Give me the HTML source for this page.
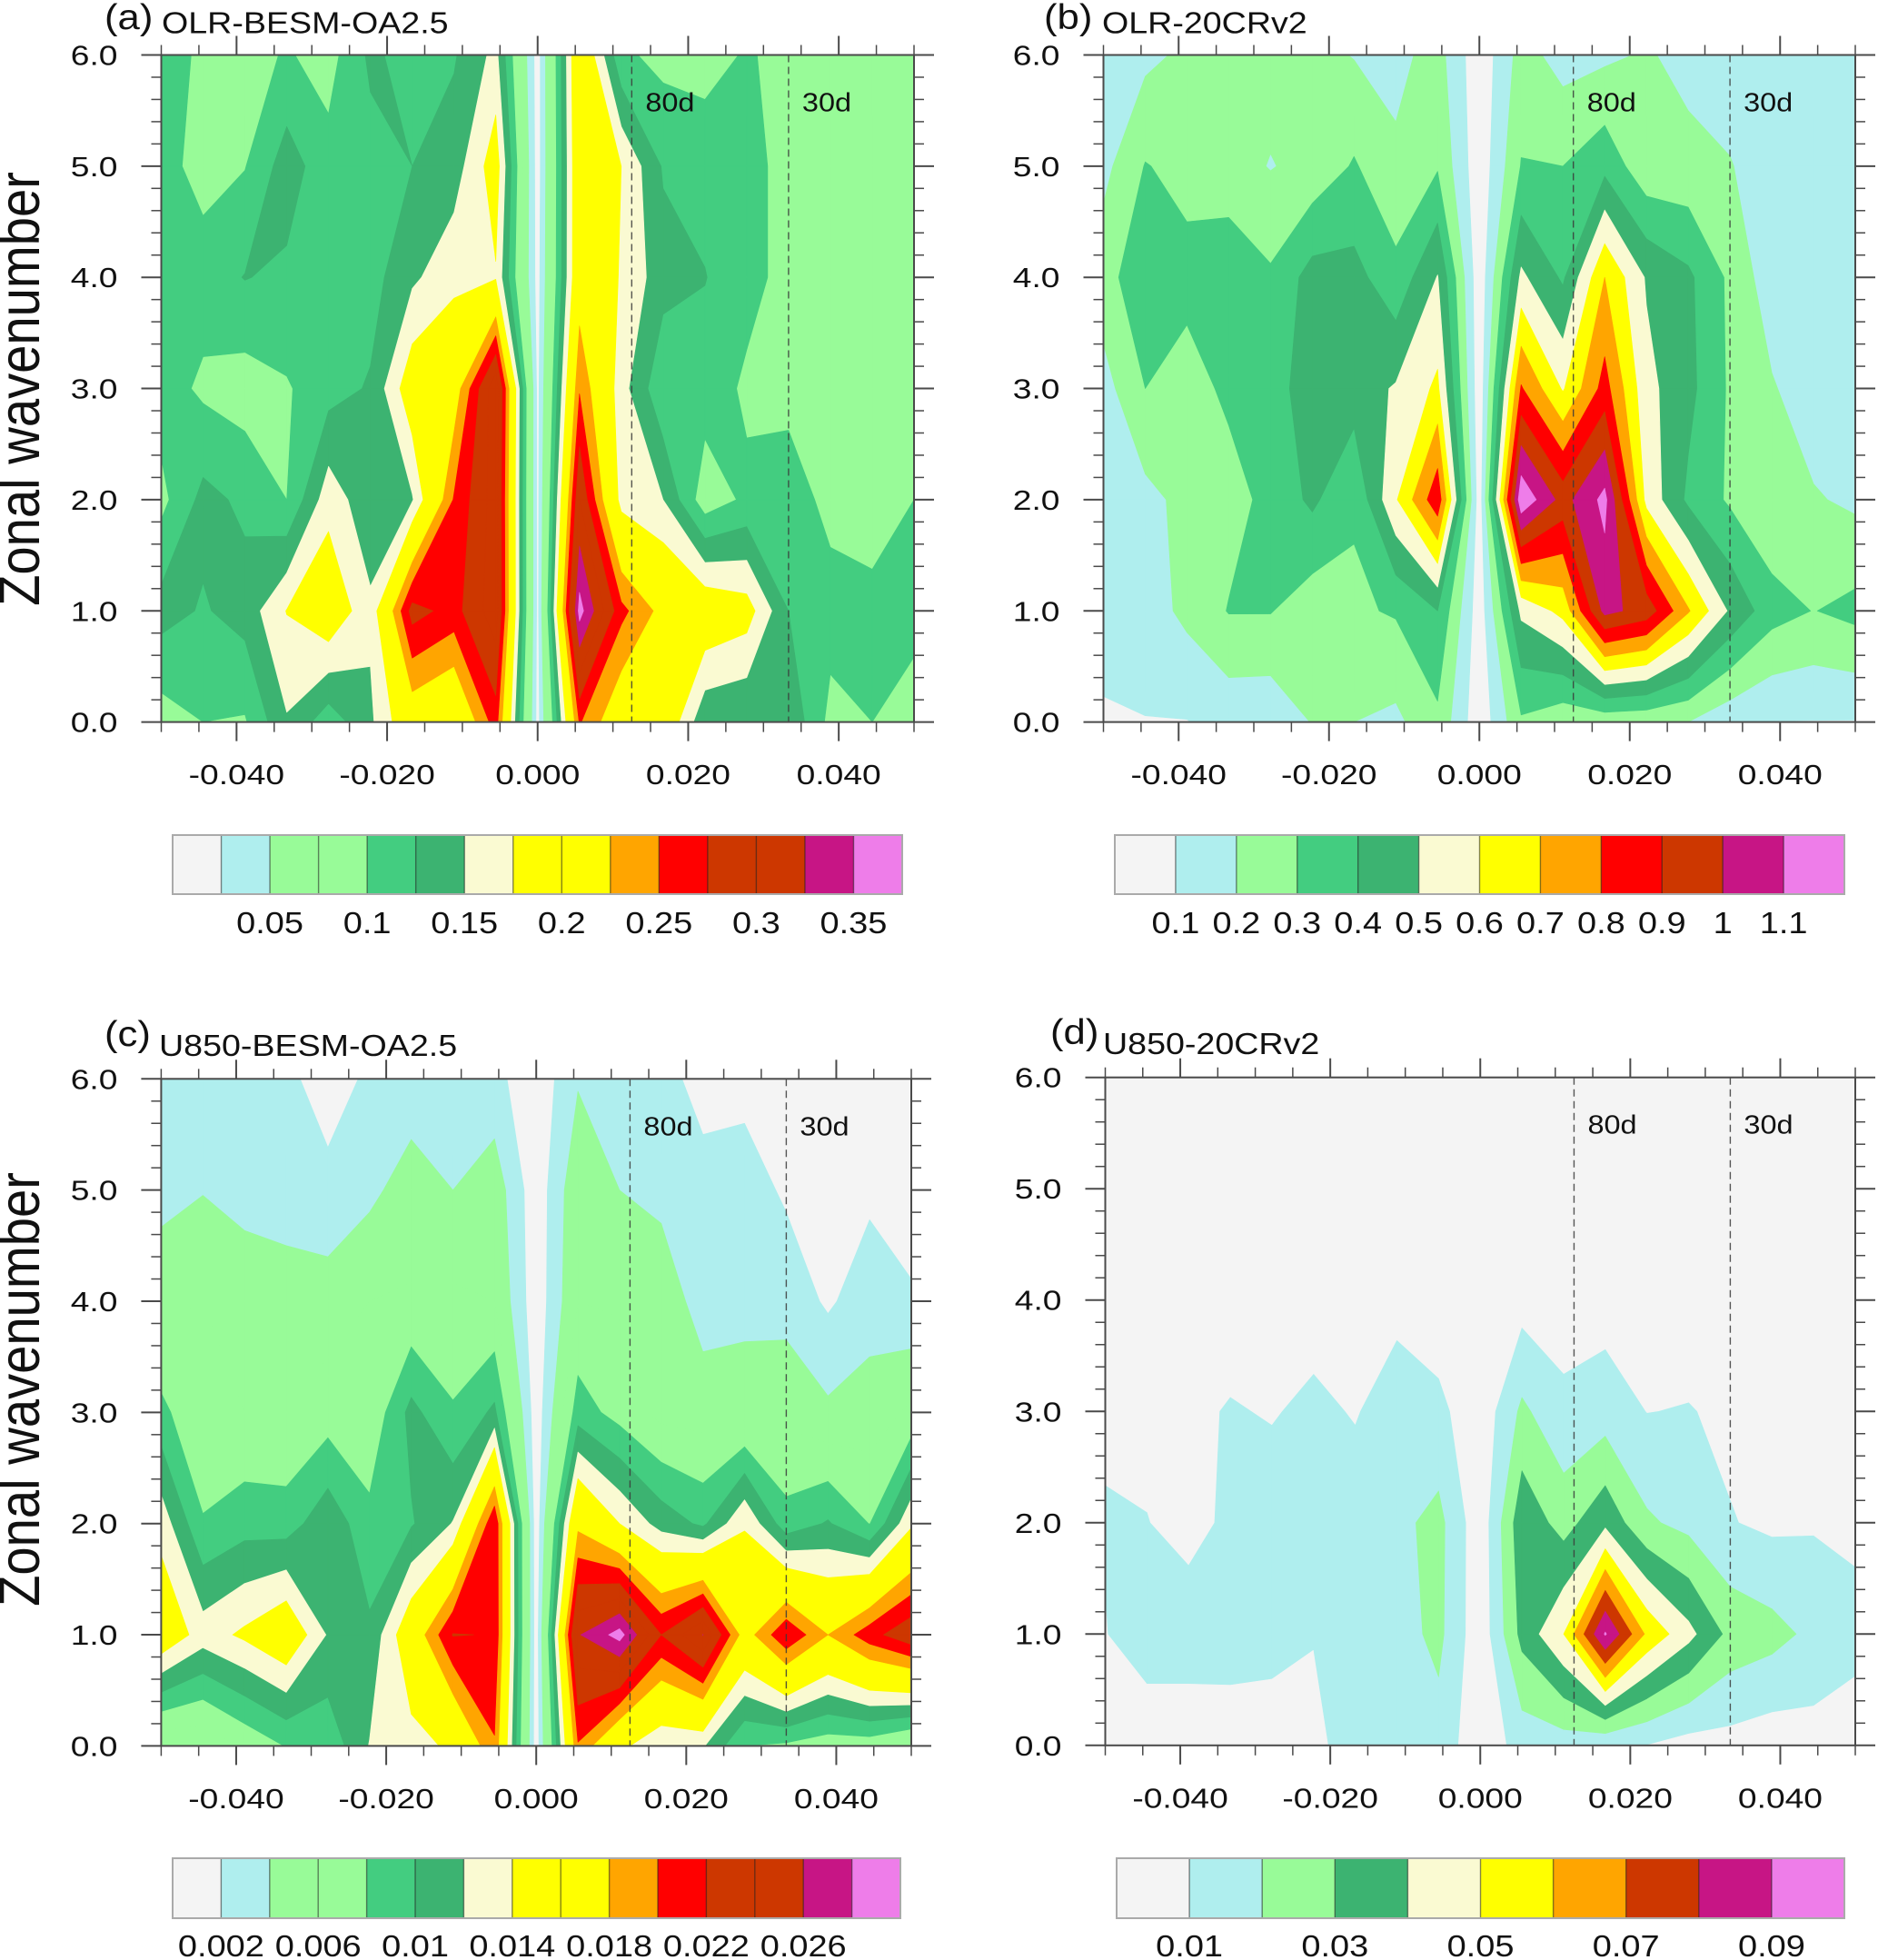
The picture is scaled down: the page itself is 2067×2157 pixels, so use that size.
<!DOCTYPE html>
<html lang="en">
<head>
<meta charset="utf-8">
<title>Wavenumber-frequency spectra</title>
<style>
html,body{margin:0;padding:0;background:#fff;}
svg{display:block;}
text{font-family:"Liberation Sans",sans-serif;fill:#111;}
</style>
</head>
<body>
<svg id="figure" xmlns="http://www.w3.org/2000/svg" width="2067" height="2157" viewBox="0 0 2067 2157"></svg>
<script>
/* ---------- shared axes data ---------- */
const wavenumbers = [0, 1, 2, 3, 4, 5, 6];
const freqIndex = [-9, -8, -7, -6, -5, -4, -3, -2, -1, 0, 1, 2, 3, 4, 5, 6, 7, 8, 9];
const freqUnit = 1 / 180;
const xTickLabels = ['-0.040', '-0.020', '0.000', '0.020', '0.040'];
const yTickLabels = ['0.0', '1.0', '2.0', '3.0', '4.0', '5.0', '6.0'];
const periodDays = [80, 30];

/* ---------- colour tables ---------- */
const C = {gray:'#f4f4f4', turq:'#afeeee', pale:'#98fb98', sea3:'#43cd80', med:'#3cb371', gold:'#fafad2',
           yel:'#ffff00', ora:'#ffa500', red:'#ff0000', or3:'#cd3700', vio:'#c71585', pink:'#ee7de9'};
const colors15 = [C.gray,C.turq,C.pale,C.pale,C.sea3,C.med,C.gold,C.yel,C.yel,C.ora,C.red,C.or3,C.or3,C.vio,C.pink];
const colors12 = [C.gray,C.turq,C.pale,C.sea3,C.med,C.gold,C.yel,C.ora,C.red,C.or3,C.vio,C.pink];
const colors10 = [C.gray,C.turq,C.pale,C.med,C.gold,C.yel,C.ora,C.or3,C.vio,C.pink];

/* ---------- contour levels and colourbar labels ---------- */
const olrBesmLevels = [.025,.05,.075,.1,.125,.15,.175,.2,.225,.25,.275,.3,.325,.35];
const olrBesmLabels = ['0.05','0.1','0.15','0.2','0.25','0.3','0.35'];
const olr20crLevels = [.1,.2,.3,.4,.5,.6,.7,.8,.9,1,1.1];
const olr20crLabels = ['0.1','0.2','0.3','0.4','0.5','0.6','0.7','0.8','0.9','1','1.1'];
const u850BesmLevels = [.002,.004,.006,.008,.01,.012,.014,.016,.018,.02,.022,.024,.026,.028];
const u850BesmLabels = ['0.002','0.006','0.01','0.014','0.018','0.022','0.026'];
const u85020crLevels = [.01,.02,.03,.04,.05,.06,.07,.08,.09];
const u85020crLabels = ['0.01','0.03','0.05','0.07','0.09'];

/* ---------- spectral power, rows are wavenumber 0..6, columns follow freqIndex ---------- */
const olrBesmValues = [
[.0875,.1,.0975,.1475,.11,.145,.2025,.185,.2625,.015,.2525,.1975,.2025,.13,.125,.145,.0925,.1,.0825],
[.135,.1225,.135,.176,.2,.155,.285,.265,.315,.0175,.36,.2575,.215,.2,.1875,.125,.11,.1075,.1125],
[.0925,.1325,.12,.1,.165,.1325,.1475,.2525,.3125,.0175,.3,.165,.15,.085,.105,.1125,.0925,.0875,.1],
[.1125,.095,.0875,.0975,.115,.1275,.195,.2075,.32,.0175,.2475,.16,.105,.1125,.096,.0925,.09,.09,.0875],
[.1125,.1125,.126,.12,.1125,.115,.145,.1675,.1725,.015,.2075,.1725,.135,.126,.1075,.0925,.0875,.0875,.0875],
[.11,.09,.099,.1375,.109,.115,.125,.1375,.19,.0125,.2075,.175,.1225,.115,.105,.095,.0925,.09,.09],
[.1125,.095,.09,.1025,.09,.13,.115,.1225,.1575,.0125,.2125,.105,.0925,.09,.1025,.0925,.09,.09,.09]
];
const olr20crValues = [
[.097,.097,.097,.13,.125,.205,.2,.177,.277,.03,.285,.23,.23,.22,.2,.13,.098,.097,.096],
[.11,.15,.225,.305,.305,.24,.285,.31,.4,.04,.52,.63,1.03,.96,.71,.485,.34,.297,.33],
[.12,.17,.23,.26,.33,.42,.31,.59,.87,.04,1.18,.96,1.13,.57,.38,.285,.22,.21,.18],
[.16,.3,.26,.32,.375,.43,.45,.51,.62,.03,.81,.59,.84,.53,.43,.285,.21,.14,.12],
[.26,.37,.33,.37,.315,.44,.435,.33,.505,.03,.52,.385,.7,.49,.42,.28,.14,.12,.12],
[.17,.305,.27,.24,.195,.23,.31,.22,.29,.03,.305,.3,.37,.23,.23,.205,.15,.13,.12],
[.13,.175,.22,.24,.24,.23,.195,.17,.24,.03,.24,.16,.18,.21,.17,.15,.14,.13,.13]
];
const u850BesmValues = [
[.0044,.0044,.0064,.0081,.0086,.0121,.0132,.0144,.0198,.0008,.0198,.0146,.0122,.0122,.008,.0076,.0068,.0068,.0052],
[.016,.013,.0144,.0162,.0118,.0104,.016,.0221,.0219,.0008,.0258,.0288,.022,.02604,.0168,.0218,.018,.0212,.0236],
[.0132,.0082,.0092,.009,.0114,.0086,.0098,.0121,.0218,.0007,.0174,.014,.0112,.0096,.0138,.0088,.0102,.00794,.0136],
[.0086,.006,.006,.006,.007,.0064,.0106,.0082,.0104,.0008,.009,.0072,.0054,.0052,.0054,.0055,.0044,.0049,.0064],
[.0052,.006,.0054,.005,.005,.006,.0062,.0064,.006,.0007,.006,.0058,.0054,.003,.0032,.0032,.0017,.0031,.0022],
[.0034,.0039,.0032,.003,.0025,.0035,.005,.004,.0052,.0007,.0056,.004,.0034,.0023,.0029,.0017,.0012,.0016,.0012],
[.0026,.0024,.0021,.0024,.0012,.0023,.0028,.003,.0026,.0006,.0038,.0028,.0023,.0017,.0014,.0012,.001,.001,.001]
];
const u85020crValues = [
[.004,.005,.005,.004,.004,.0075,.0145,.015,.016,.003,.014,.015,.0115,.0097,.006,.0063,.0042,.0058,.005],
[.0097,.014,.014,.015,.014,.0104,.016,.016,.0225,.003,.033,.05,.091,.058,.043,.027,.0235,.0175,.013],
[.0105,.0102,.0075,.0115,.017,.017,.017,.0175,.023,.003,.037,.026,.0375,.0215,.017,.0105,.008,.009,.008],
[.009,.008,.007,.011,.009,.013,.009,.017,.0125,.003,.022,.0125,.015,.0098,.0105,.008,.006,.005,.004],
[.003,.003,.003,.003,.0035,.004,.004,.006,.004,.002,.006,.005,.006,.005,.004,.003,.003,.003,.003],
[.002,.002,.002,.002,.002,.002,.002,.002,.002,.002,.002,.002,.002,.002,.002,.002,.002,.002,.002],
[.001,.001,.001,.001,.001,.001,.001,.001,.001,.001,.001,.001,.001,.001,.001,.001,.001,.001,.001]
];

/* ---------- layout ---------- */
const panels = [
 {key:'a', tag:'(a)', title:'OLR-BESM-OA2.5', values:olrBesmValues, levels:olrBesmLevels, labels:olrBesmLabels, colors:colors15,
  left:177.5, right:1006, top:60.5, bottom:794.6, tagX:115, tagY:32, titleX:178, titleY:36.5,
  barLeft:190, barRight:993, barTop:919, barBottom:984, barText:1027, ylabelY:428},
 {key:'b', tag:'(b)', title:'OLR-20CRv2', values:olr20crValues, levels:olr20crLevels, labels:olr20crLabels, colors:colors12,
  left:1214.5, right:2042, top:60.5, bottom:794.6, tagX:1149, tagY:32, titleX:1213, titleY:36.5,
  barLeft:1227, barRight:2030, barTop:919, barBottom:984, barText:1027, ylabelY:0},
 {key:'c', tag:'(c)', title:'U850-BESM-OA2.5', values:u850BesmValues, levels:u850BesmLevels, labels:u850BesmLabels, colors:colors15,
  left:177.4, right:1003, top:1187.3, bottom:1921.4, tagX:115, tagY:1151, titleX:175, titleY:1162,
  barLeft:190, barRight:991, barTop:2045, barBottom:2111, barText:2153, ylabelY:1529},
 {key:'d', tag:'(d)', title:'U850-20CRv2', values:u85020crValues, levels:u85020crLevels, labels:u85020crLabels, colors:colors10,
  left:1216.5, right:2042, top:1185.7, bottom:1920.8, tagX:1156, tagY:1149, titleX:1214, titleY:1160,
  barLeft:1229, barRight:2030, barTop:2045, barBottom:2111, barText:2153, ylabelY:0}
];

const SVGNS = 'http://www.w3.org/2000/svg';
const svg = document.getElementById('figure');
const AXIS = '#4a4a4a';
const STRETCH = 1.2;

function make(tag, attrs, parent) {
  const el = document.createElementNS(SVGNS, tag);
  for (const k in attrs) el.setAttribute(k, attrs[k]);
  parent.appendChild(el);
  return el;
}

/* keep the part of a polygon where value >= level */
function clipPoly(poly, level) {
  const out = [];
  for (let i = 0; i < poly.length; i++) {
    const a = poly[i], b = poly[(i + 1) % poly.length];
    const ain = a[2] >= level, bin = b[2] >= level;
    if (ain) out.push(a);
    if (ain !== bin) {
      const t = (level - a[2]) / (b[2] - a[2]);
      out.push([a[0] + t * (b[0] - a[0]), a[1] + t * (b[1] - a[1]), level]);
    }
  }
  return out;
}

function bandPath(values, level, xs, ys) {
  let d = '';
  for (let r = 0; r < wavenumbers.length - 1; r++) {
    for (let c = 0; c < freqIndex.length - 1; c++) {
      const a = [xs(c), ys(r), values[r][c]];
      const b = [xs(c + 1), ys(r), values[r][c + 1]];
      const e = [xs(c + 1), ys(r + 1), values[r + 1][c + 1]];
      const f = [xs(c), ys(r + 1), values[r + 1][c]];
      const p = clipPoly([a, b, e, f], level);
      if (p.length < 3) continue;
      d += 'M' + p.map(q => q[0].toFixed(1) + ' ' + q[1].toFixed(1)).join('L') + 'Z';
    }
  }
  return d;
}

panels.forEach(function (p) {
  const g = make('g', {}, svg);
  
  

  const xAxis = (f) => p.left + (f + 0.05) / 0.1 * (p.right - p.left);
  const yAxis = (w) => p.bottom - w / 6 * (p.bottom - p.top);
  const xs = (c) => xAxis(freqIndex[c] * freqUnit);
  const ys = (r) => yAxis(wavenumbers[r]);

  /* contour fills */
  const clip = make('clipPath', {id: 'clip-' + p.key}, g);
  make('rect', {x: p.left, y: p.top, width: p.right - p.left, height: p.bottom - p.top}, clip);
  const fills = make('g', {'clip-path': 'url(#clip-' + p.key + ')'}, g);
  
  
  const base = make('rect', {x: p.left, y: p.top, width: p.right - p.left, height: p.bottom - p.top, fill: p.colors[0]}, fills);
  
  
  p.levels.forEach(function (lev, k) {
    const band = make('path', {d: bandPath(p.values, lev, xs, ys), fill: p.colors[k + 1], stroke: p.colors[k + 1], 'stroke-width': 0.6, 'stroke-linejoin': 'round'}, fills);
    
    
  });

  /* period reference lines */
  periodDays.forEach(function (days) {
    const fx = xAxis(1 / days);
    const ln = make('line', {x1: fx, x2: fx, y1: p.top, y2: p.bottom, stroke: '#3a3a3a', 'stroke-width': 1.4, 'stroke-dasharray': '8 5', opacity: 0.85}, g);
    
    
    const lab = make('text', {transform: 'translate(' + (fx + 15) + ' ' + (p.top + 62) + ') scale(1.12 1)', 'font-size': 29}, g);
    lab.textContent = days + 'd';
    
    
  });

  /* frame */
  const frame = make('rect', {x: p.left, y: p.top, width: p.right - p.left, height: p.bottom - p.top, fill: 'none', stroke: AXIS, 'stroke-width': 2}, g);
  
  

  /* x ticks */
  for (let i = -10; i <= 10; i++) {
    const f = i * 0.005, major = i % 4 === 0 && Math.abs(i) < 10;
    const len = major ? 21 : 11, x = xAxis(f);
    [[p.bottom, p.bottom + len], [p.top, p.top - len]].forEach(function (pair) {
      const t = make('line', {x1: x, x2: x, y1: pair[0], y2: pair[1], stroke: AXIS, 'stroke-width': major ? 2 : 1.5}, g);
      
      
    });
  }
  xTickLabels.forEach(function (s) {
    const lab = make('text', {transform: 'translate(' + xAxis(Number(s)) + ' ' + (p.bottom + 68.5) + ') scale(' + STRETCH + ' 1)', 'font-size': 31, 'text-anchor': 'middle'}, g);
    lab.textContent = s;
    
    
  });

  /* y ticks */
  for (let i = 0; i <= 30; i++) {
    const w = i * 0.2, major = i % 5 === 0;
    const len = major ? 22 : 11, y = yAxis(w);
    [[p.left, p.left - len], [p.right, p.right + len]].forEach(function (pair) {
      const t = make('line', {x1: pair[0], x2: pair[1], y1: y, y2: y, stroke: AXIS, 'stroke-width': major ? 2 : 1.5}, g);
      
      
    });
  }
  yTickLabels.forEach(function (s) {
    const lab = make('text', {transform: 'translate(' + (p.left - 48) + ' ' + (yAxis(Number(s)) + 11) + ') scale(' + STRETCH + ' 1)', 'font-size': 31, 'text-anchor': 'end'}, g);
    lab.textContent = s;
    
    
  });

  /* titles */
  const tag = make('text', {transform: 'translate(' + p.tagX + ' ' + p.tagY + ') scale(1.12 1)', 'font-size': 39}, g);
  tag.textContent = p.tag;
  
  
  const title = make('text', {transform: 'translate(' + p.titleX + ' ' + p.titleY + ') scale(1.14 1)', 'font-size': 33}, g);
  title.textContent = p.title;
  
  

  if (p.ylabelY) {
    const yl = make('text', {transform: 'translate(43 ' + p.ylabelY + ') scale(1.12 1) rotate(-90)', 'font-size': 56.2, 'text-anchor': 'middle'}, g);
    yl.textContent = 'Zonal wavenumber';
    
    
  }

  /* colourbar */
  const bar = make('g', {}, g);
  
  
  const boxW = (p.barRight - p.barLeft) / p.colors.length;
  p.colors.forEach(function (col, i) {
    const box = make('rect', {x: p.barLeft + i * boxW, y: p.barTop, width: boxW + 0.3, height: p.barBottom - p.barTop, fill: col}, bar);
    
    
  });
  for (let i = 1; i < p.colors.length; i++) {
    const sep = make('line', {x1: p.barLeft + i * boxW, x2: p.barLeft + i * boxW, y1: p.barTop, y2: p.barBottom, stroke: '#222', 'stroke-width': 1.4, opacity: 0.55}, bar);
    
    
  }
  const outline = make('rect', {x: p.barLeft, y: p.barTop, width: p.barRight - p.barLeft, height: p.barBottom - p.barTop, fill: 'none', stroke: '#aaa', 'stroke-width': 2}, bar);
  
  
  p.labels.forEach(function (s) {
    const idx = p.levels.indexOf(Number(s));
    const lab = make('text', {transform: 'translate(' + (p.barLeft + (idx + 1) * boxW) + ' ' + p.barText + ') scale(1.15 1)', 'font-size': 33, 'text-anchor': 'middle'}, bar);
    lab.textContent = s;
    
    
  });
});
</script>
</body>
</html>
